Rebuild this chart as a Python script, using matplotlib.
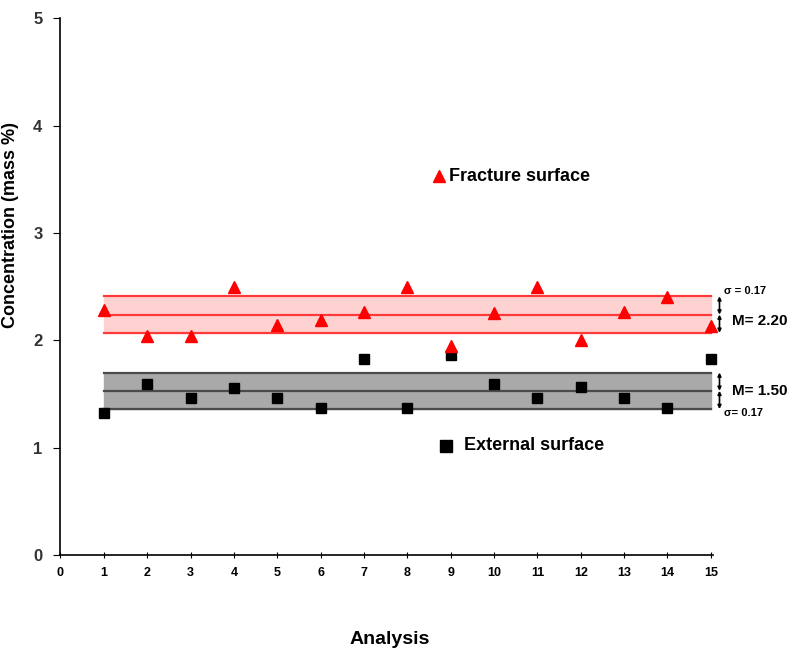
import matplotlib
matplotlib.use("Agg")
import matplotlib.pyplot as plt
import numpy as np

plt.rcParams['font.family'] = ['Liberation Sans', 'DejaVu Sans']

analysis = np.arange(1, 16)
fracture = [2.28, 2.04, 2.04, 2.50, 2.14, 2.19, 2.26, 2.50, 1.95, 2.25, 2.50, 2.00, 2.26, 2.40, 2.13]
external = [1.32, 1.59, 1.46, 1.56, 1.46, 1.37, 1.83, 1.37, 1.86, 1.59, 1.46, 1.57, 1.46, 1.37, 1.83]

# band centre / half width as drawn
frac_mid, frac_sd = 2.24, 0.17
ext_mid, ext_sd = 1.53, 0.17
frac_label = "M= 2.20"
ext_label = "M= 1.50"
sd_label = "0.17"

fig = plt.figure(figsize=(8.04, 6.5), dpi=100)
ax = fig.add_axes([0.0752, 0.146, 0.8116, 0.826])

# bands
ax.fill_between([1, 15], frac_mid - frac_sd, frac_mid + frac_sd, color="#ffd2d2", zorder=1)
for v in (frac_mid - frac_sd, frac_mid, frac_mid + frac_sd):
    ax.plot([1, 15], [v, v], color="#ff3a3a", lw=1.6, zorder=2)
ax.fill_between([1, 15], ext_mid - ext_sd, ext_mid + ext_sd, color="#a9a9a9", zorder=1)
for v in (ext_mid - ext_sd, ext_mid, ext_mid + ext_sd):
    ax.plot([1, 15], [v, v], color="#4a4a4a", lw=1.6, zorder=2)

ax.plot(analysis, fracture, "^", color="red", ms=8, zorder=4, clip_on=False)
ax.plot(analysis, external, "s", color="black", ms=6.5, zorder=3, clip_on=False)

# in-plot legend
ax.plot([8.72], [3.53], "^", color="red", ms=9, clip_on=False)
ax.text(8.95, 3.53, "Fracture surface", fontsize=13, fontweight="bold", va="center")
ax.plot([8.9], [1.02], "s", color="black", ms=8, clip_on=False)
ax.text(9.3, 1.02, "External surface", fontsize=13, fontweight="bold", va="center")

# brackets on the right
bx = 15.2
for mid, sd in ((frac_mid, frac_sd), (ext_mid, ext_sd)):
    for y0, y1 in ((mid + sd, mid), (mid, mid - sd)):
        ax.annotate("", xy=(bx, y0), xytext=(bx, y1), annotation_clip=False,
                    arrowprops=dict(arrowstyle="<|-|>", color="black", lw=1.2,
                                    mutation_scale=5, shrinkA=0, shrinkB=0))
ax.text(15.3, frac_mid + frac_sd + 0.05, "\u03c3 = " + sd_label, fontsize=8, fontweight="bold", va="center")
ax.text(15.5, frac_mid - 0.06, frac_label, fontsize=11, fontweight="bold", va="center")
ax.text(15.5, ext_mid, ext_label, fontsize=11, fontweight="bold", va="center")
ax.text(15.3, ext_mid - ext_sd - 0.04, "\u03c3= " + sd_label, fontsize=8, fontweight="bold", va="center")

ax.set_xlim(0, 15.05)
ax.set_ylim(0, 5)
ax.set_xticks(range(0, 16))
ax.set_yticks(range(0, 6))
ax.spines["top"].set_visible(False)
ax.spines["right"].set_visible(False)
ax.spines["left"].set_linewidth(1.2)
ax.spines["bottom"].set_linewidth(1.2)
ax.tick_params(axis="x", direction="inout", length=5, labelsize=9, pad=6, colors="black")
ax.tick_params(axis="y", direction="out", length=5, labelsize=12, pad=8)
for lab in ax.get_xticklabels() + ax.get_yticklabels():
    lab.set_fontweight("bold")
for lab in ax.get_yticklabels():
    lab.set_color("#333333")

fig.text(0.485, 0.003, "Analysis", fontsize=14, fontweight="bold", ha="center", va="bottom")
fig.text(0.002, 0.654, "Concentration (mass %)", fontsize=13, fontweight="bold", rotation=90,
         ha="left", va="center")

fig.savefig("out.png", dpi=100)
